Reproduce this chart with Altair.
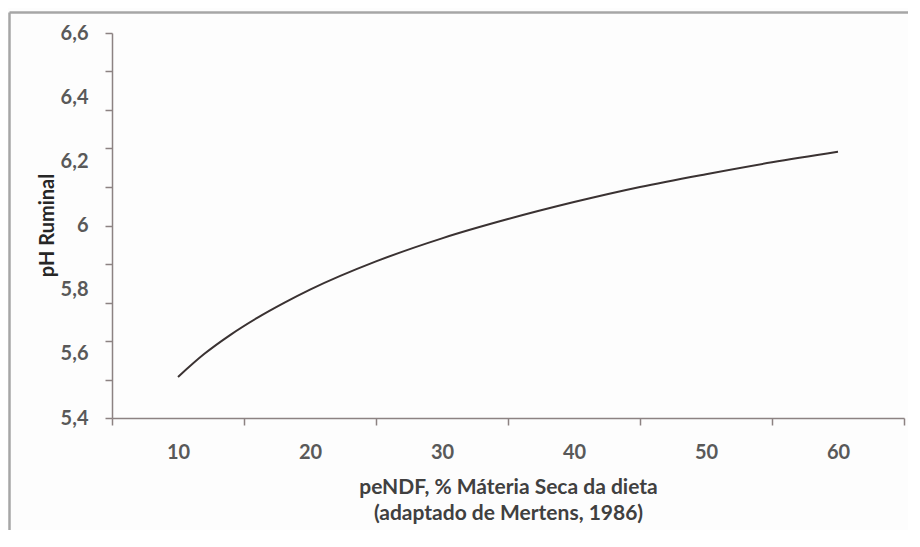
import altair as alt
import pandas as pd

# data
pendf = [10, 12, 14, 16, 18, 20, 25, 30, 35, 40, 45, 50, 55, 60]
ph = [5.528, 5.60, 5.66, 5.712, 5.758, 5.80, 5.888, 5.96, 6.02, 6.073, 6.12, 6.16, 6.197, 6.23]

x_label_values = [10, 20, 30, 40, 50, 60]
x_tick_values = [5, 15, 25, 35, 45, 55, 65]
y_label_values = [5.4, 5.6, 5.8, 6.0, 6.2, 6.4, 6.6]
y_tick_values = [5.4, 5.52, 5.64, 5.76, 5.88, 6.0, 6.12, 6.24, 6.36, 6.48, 6.6]

x_title = ["peNDF, % Máteria  Seca da dieta", "(adaptado  de Mertens, 1986)"]
y_title = "pH Ruminal"

df = pd.DataFrame({"x": pendf, "y": ph})

def arr(vals):
    return "[" + ",".join(repr(v) for v in vals) + "]"

x_all = sorted(set(x_label_values + x_tick_values))
y_all = sorted(set(y_label_values + y_tick_values))

axis_color = "#8c8282"
label_color = "#595959"
font = "Lato"

x_axis = alt.Axis(
    values=x_all,
    labelExpr=f"indexof({arr(x_label_values)}, datum.value) >= 0 ? datum.value + '' : ''",
    tickOpacity={"condition": {"test": f"indexof({arr(x_tick_values)}, datum.value) >= 0", "value": 1}, "value": 0},
    tickSize=7, tickWidth=1.5, tickColor=axis_color,
    domainColor=axis_color, domainWidth=1.5,
    labelFont=font, labelFontSize=20, labelFontWeight="bold", labelColor=label_color,
    labelPadding=27, labelBaseline="middle", labelFlush=False,
    grid=False,
    title=x_title, titleFont=font, titleFontSize=21, titleFontWeight="bold",
    titleColor="#404040", titleLineHeight=26,
    titleX=396, titleY=69, titleAnchor="middle", titleAlign="center", titleBaseline="middle",
)

y_axis = alt.Axis(
    values=y_all,
    labelExpr=f"indexof({arr(y_label_values)}, datum.value) >= 0 ? replace(format(datum.value, '~g'), '.', ',') : ''",
    tickOpacity={"condition": {"test": f"indexof({arr(y_tick_values)}, datum.value) >= 0", "value": 1}, "value": 0},
    tickSize=7, tickWidth=1.5, tickColor=axis_color,
    domainColor=axis_color, domainWidth=1.5,
    labelFont=font, labelFontSize=20, labelFontWeight="bold", labelColor=label_color,
    labelPadding=17, labelFlush=False,
    grid=False,
    title=y_title, titleFont=font, titleFontSize=20, titleFontWeight="bold",
    titleColor="#262626", titleX=-65, titleY=192, titleAngle=-90,
    titleAlign="center", titleBaseline="middle",
)

line = alt.Chart(df).mark_line(color="#3a3232", strokeWidth=2, interpolate="monotone").encode(
    x=alt.X("x:Q", scale=alt.Scale(domain=[5, 65], nice=False, zero=False), axis=x_axis),
    y=alt.Y("y:Q", scale=alt.Scale(domain=[5.4, 6.6], nice=False, zero=False), axis=y_axis),
)

one = pd.DataFrame({"d": [0]})
border_top = alt.Chart(one).mark_rule(color="#a6a6a6", strokeWidth=2.5).encode(
    x=alt.value(-102.5), x2=alt.value(820), y=alt.value(-20.5)
)
border_left = alt.Chart(one).mark_rule(color="#a6a6a6", strokeWidth=2.5).encode(
    x=alt.value(-102.5), y=alt.value(-20.5), y2=alt.value(520)
)

chart = alt.layer(border_top, border_left, line).properties(
    width=792, height=385,
    autosize=alt.AutoSizeParams(type="none"),
    padding={"left": 104, "top": 25, "right": 4, "bottom": 112},
    background="#fdfdfd",
).configure_view(strokeWidth=0)

chart.save("out.html", embed_options={"renderer": "svg", "actions": False})
